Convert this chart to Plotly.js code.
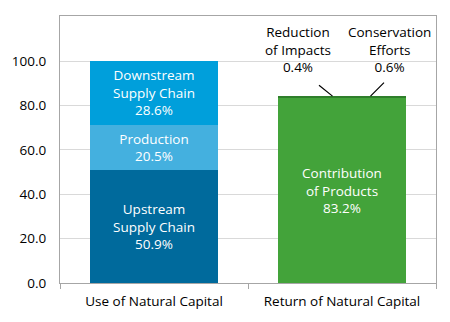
<!DOCTYPE html>
<html>
<head>
<meta charset="utf-8">
<script src="https://cdn.plot.ly/plotly-3.0.1.min.js"></script>
<style>html,body{margin:0;padding:0;background:#fff;}#chart{width:450px;height:322px;}</style>
</head>
<body>
<div id="chart"></div>
<script>
var categories = ['Use of Natural Capital', 'Return of Natural Capital'];

// Use of Natural Capital segments (bottom to top)
var useNames = ['Upstream Supply Chain', 'Production', 'Downstream Supply Chain'];
var useLabels = ['Upstream<br>Supply Chain', 'Production', 'Downstream<br>Supply Chain'];
var useValues = [50.9, 20.5, 28.6];
var useColors = ['#006a9c', '#44b0df', '#009fdb'];

// Return of Natural Capital segments (bottom to top)
var retNames = ['Contribution of Products', 'Reduction of Impacts', 'Conservation Efforts'];
var retLabels = ['Contribution<br>of Products', 'Reduction<br>of Impacts', 'Conservation<br>Efforts'];
var retValues = [83.2, 0.4, 0.6];
var retColors = ['#43a33a', '#2f7f2b', '#2f7f2b'];

var yTicks = [0, 20, 40, 60, 80, 100];
var FONT = '"Open Sans", "Liberation Sans", sans-serif';

var traces = [];
useValues.forEach(function (v, i) {
  traces.push({
    type: 'bar', name: useNames[i],
    x: [categories[0]], y: [v],
    marker: {color: useColors[i], line: {width: 0}},
    text: [useLabels[i] + '<br>' + v.toFixed(1) + '%'],
    textposition: 'inside', insidetextanchor: 'middle', textangle: 0,
    constraintext: 'none',
    textfont: {color: '#ffffff', size: 13.5, family: FONT},
    hoverinfo: 'none'
  });
});
retValues.forEach(function (v, i) {
  traces.push({
    type: 'bar', name: retNames[i],
    x: [categories[1]], y: [v],
    marker: {color: retColors[i], line: {width: 0}},
    text: [i === 0 ? retLabels[i] + '<br>' + v.toFixed(1) + '%' : ''],
    textposition: i === 0 ? 'inside' : 'none', insidetextanchor: 'middle', textangle: 0,
    constraintext: 'none',
    textfont: {color: '#ffffff', size: 13.5, family: FONT},
    hoverinfo: 'none'
  });
});

var retTop = retValues.reduce(function (a, b) { return a + b; }, 0);

var annotations = [
  {x: categories[1], y: 105, xref: 'x', yref: 'y', xshift: -44, showarrow: false,
   text: retLabels[1] + '<br>' + retValues[1].toFixed(1) + '%',
   font: {size: 13.5, color: '#000', family: FONT}, align: 'center'},
  {x: categories[1], y: 105, xref: 'x', yref: 'y', xshift: 47, showarrow: false,
   text: retLabels[2] + '<br>' + retValues[2].toFixed(1) + '%',
   font: {size: 13.5, color: '#000', family: FONT}, align: 'center'},
  {x: categories[1], y: retTop, xref: 'x', yref: 'y', xshift: -9.5, text: '',
   showarrow: true, arrowhead: 0, arrowwidth: 1.2, arrowcolor: '#000', ax: -15, ay: -12, standoff: 0, startstandoff: 0},
  {x: categories[1], y: retTop, xref: 'x', yref: 'y', xshift: 28.5, text: '',
   showarrow: true, arrowhead: 0, arrowwidth: 1.2, arrowcolor: '#000', ax: 15, ay: -15, standoff: 0, startstandoff: 0}
];

var layout = {
  width: 450, height: 322,
  margin: {l: 60, r: 14, t: 16, b: 39, pad: 0},
  paper_bgcolor: '#ffffff', plot_bgcolor: '#ffffff',
  barmode: 'stack', bargap: 0.314,
  showlegend: false,
  font: {family: FONT, size: 13.5, color: '#000'},
  xaxis: {
    type: 'category', categoryorder: 'array', categoryarray: categories,
    showline: true, linecolor: '#a6a6a6', linewidth: 1, mirror: true,
    ticks: 'outside', tickson: 'boundaries', ticklen: 5, tickcolor: '#a6a6a6',
    showgrid: false, tickfont: {size: 13.5, family: FONT, color: '#000'},
    ticklabelstandoff: 6, fixedrange: true
  },
  yaxis: {
    range: [0, 120.3], tickvals: yTicks, tickformat: '.1f',
    showgrid: true, gridcolor: '#d9d9d9', gridwidth: 1,
    showline: true, linecolor: '#a6a6a6', linewidth: 1, mirror: true,
    ticks: '', zeroline: false,
    tickfont: {size: 13.5, family: FONT, color: '#000'},
    ticklabelstandoff: 10, fixedrange: true
  },
  annotations: annotations
};

Plotly.newPlot('chart', traces, layout, {displayModeBar: false, staticPlot: true});
</script>
</body>
</html>
